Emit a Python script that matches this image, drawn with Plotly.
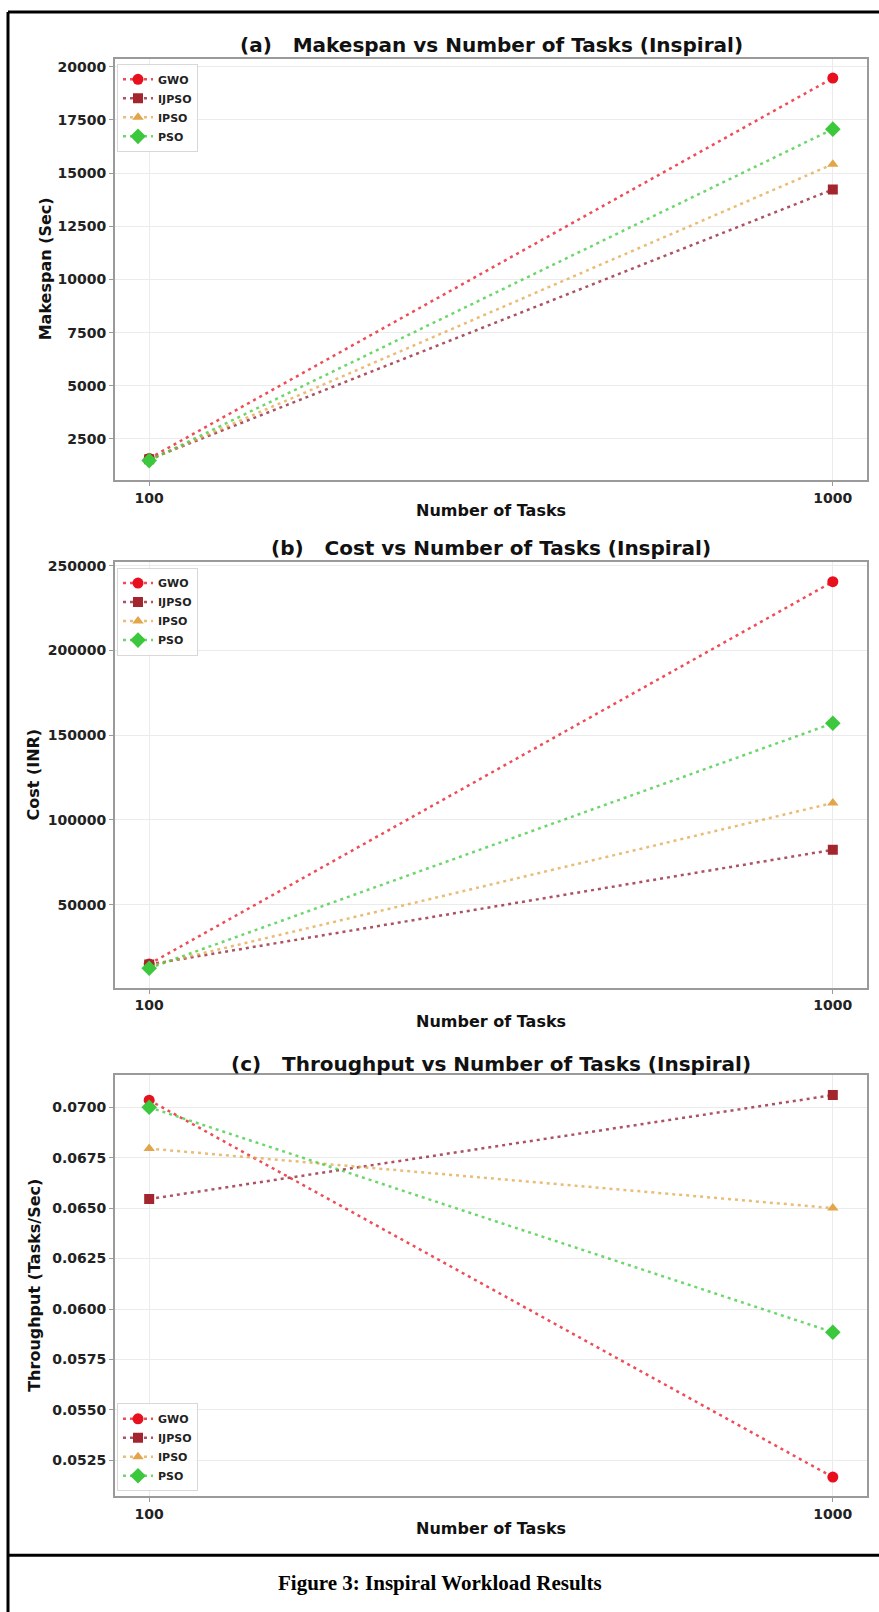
import plotly.graph_objects as go

# ---------------- data ----------------
tasks = [100, 1000]
series = ["GWO", "IJPSO", "IPSO", "PSO"]

makespan_gwo = [1580, 19470]
makespan_ijpso = [1540, 14230]
makespan_ipso = [1510, 15420]
makespan_pso = [1480, 17070]

cost_gwo = [15000, 240500]
cost_ijpso = [14800, 82400]
cost_ipso = [13900, 110000]
cost_pso = [12600, 157000]

thr_gwo = [0.07035, 0.05167]
thr_ijpso = [0.06545, 0.07060]
thr_ipso = [0.06795, 0.06500]
thr_pso = [0.07000, 0.05885]

makespan_ticks = [2500, 5000, 7500, 10000, 12500, 15000, 17500, 20000]
cost_ticks = [50000, 100000, 150000, 200000, 250000]
thr_ticks = [0.0525, 0.0550, 0.0575, 0.0600, 0.0625, 0.0650, 0.0675, 0.0700]

panel_titles = [
    "(a)\u00a0\u00a0\u00a0Makespan vs Number of Tasks (Inspiral)",
    "(b)\u00a0\u00a0\u00a0Cost vs Number of Tasks (Inspiral)",
    "(c)\u00a0\u00a0\u00a0Throughput vs Number of Tasks (Inspiral)",
]
y_titles = ["Makespan (Sec)", "Cost (INR)", "Throughput (Tasks/Sec)"]
x_title = "Number of Tasks"
caption = "Figure 3: Inspiral Workload Results"

# ---------------- style ----------------
W, H = 879, 1612
colors = {"GWO": "#e8101e", "IJPSO": "#a3262e", "IPSO": "#e2a54a", "PSO": "#3cc83c"}
line_rgba = {"GWO": "rgba(232,16,30,0.75)", "IJPSO": "rgba(150,40,60,0.8)",
             "IPSO": "rgba(226,165,74,0.75)", "PSO": "rgba(60,200,60,0.75)"}
symbols = {"GWO": "circle", "IJPSO": "square", "IPSO": "triangle-up", "PSO": "diamond"}
sizes = {"GWO": 11, "IJPSO": 10, "IPSO": 10, "PSO": 12}

FONT = "DejaVu Sans"

def px_y(p):
    return 1 - p / H

x_dom = [115 / W, 867 / W]
panels = [
    dict(top=55, bot=477, data=[makespan_gwo, makespan_ijpso, makespan_ipso, makespan_pso],
         yr=[576, 20375], ticks=makespan_ticks, fmt="d", title_y=41, xt_y=508, yt_x=45,
         leg=dict(x=117 / W, y=px_y(60), yanchor="top")),
    dict(top=559, bot=986, data=[cost_gwo, cost_ijpso, cost_ipso, cost_pso],
         yr=[1176, 252350], ticks=cost_ticks, fmt="d", title_y=545, xt_y=1020, yt_x=34,
         leg=dict(x=117 / W, y=px_y(565), yanchor="top")),
    dict(top=1074, bot=1496, data=[thr_gwo, thr_ijpso, thr_ipso, thr_pso],
         yr=[0.05072, 0.07158], ticks=thr_ticks, fmt=".4f", title_y=1063, xt_y=1528, yt_x=35,
         leg=dict(x=117 / W, y=px_y(1491), yanchor="bottom")),
]

fig = go.Figure()
layout = dict(
    width=W, height=H, margin=dict(l=0, r=0, t=0, b=0),
    paper_bgcolor="white", plot_bgcolor="white",
    font=dict(family=FONT, color="#222"),
    annotations=[], shapes=[],
)

for i, p in enumerate(panels):
    k = "" if i == 0 else str(i + 1)
    for s, vals in zip(series, p["data"]):
        fig.add_trace(go.Scatter(
            x=tasks, y=vals, name=s, mode="lines+markers",
            xaxis="x" + k, yaxis="y" + k, legend="legend" + k,
            line=dict(color=line_rgba[s], width=2.5, dash="3px,4px"),
            marker=dict(symbol=symbols[s], size=sizes[s], color=colors[s]),
        ))
    ydom = [1 - p["bot"] / H, 1 - p["top"] / H]
    axis_common = dict(
        showline=True, linecolor="#9a9a9a", linewidth=2, mirror=True,
        ticks="outside", ticklen=4, tickwidth=1, tickcolor="#9a9a9a",
        showgrid=True, gridcolor="#ebebeb", gridwidth=1, zeroline=False,
        tickfont=dict(family=FONT, size=14, color="#222", weight="bold"),
    )
    layout["xaxis" + k] = dict(domain=x_dom, range=[55, 1045], tickvals=tasks,
                               anchor="y" + k, **axis_common)
    layout["yaxis" + k] = dict(domain=ydom, range=p["yr"], tickvals=p["ticks"],
                               tickformat=p["fmt"], anchor="x" + k, **axis_common)
    layout["legend" + k] = dict(
        x=p["leg"]["x"], y=p["leg"]["y"], xanchor="left", yanchor=p["leg"]["yanchor"],
        bgcolor="rgba(255,255,255,0.85)", bordercolor="#d8d8d8", borderwidth=1,
        font=dict(family=FONT, size=11, color="#222", weight="bold"),
        itemwidth=30, tracegroupgap=0,
    )
    cx = (x_dom[0] + x_dom[1]) / 2
    layout["annotations"].append(dict(
        text=panel_titles[i], x=cx, y=px_y(p["title_y"]), xref="paper", yref="paper",
        xanchor="center", yanchor="middle", showarrow=False,
        font=dict(family=FONT, size=20, color="#111", weight="bold")))
    layout["annotations"].append(dict(
        text=x_title, x=cx, y=px_y(p["xt_y"]), xref="paper", yref="paper",
        xanchor="center", yanchor="middle", showarrow=False,
        font=dict(family=FONT, size=16, color="#111", weight="bold")))
    layout["annotations"].append(dict(
        text=y_titles[i], x=p["yt_x"] / W, y=(ydom[0] + ydom[1]) / 2, xref="paper", yref="paper",
        xanchor="center", yanchor="middle", textangle=-90, showarrow=False,
        font=dict(family=FONT, size=16, color="#111", weight="bold")))

layout["annotations"].append(dict(
    text="<b>" + caption + "</b>", x=0.5, y=px_y(1583), xref="paper", yref="paper",
    xanchor="center", yanchor="middle", showarrow=False,
    font=dict(family="Liberation Serif", size=21, color="#000")))

# page frame lines
layout["shapes"] += [
    dict(type="line", xref="paper", yref="paper", x0=8 / W, x1=1, y0=px_y(8), y1=px_y(8),
         line=dict(color="black", width=3)),
    dict(type="line", xref="paper", yref="paper", x0=8 / W, x1=8 / W, y0=px_y(8), y1=0,
         line=dict(color="black", width=3)),
    dict(type="line", xref="paper", yref="paper", x0=8 / W, x1=1, y0=px_y(1555), y1=px_y(1555),
         line=dict(color="black", width=3)),
]

fig.update_layout(**layout)
fig.update_layout(showlegend=True)
fig.write_html("out.html", config={"displayModeBar": False},
               post_script="document.body.style.margin='0';document.body.style.padding='0';")
